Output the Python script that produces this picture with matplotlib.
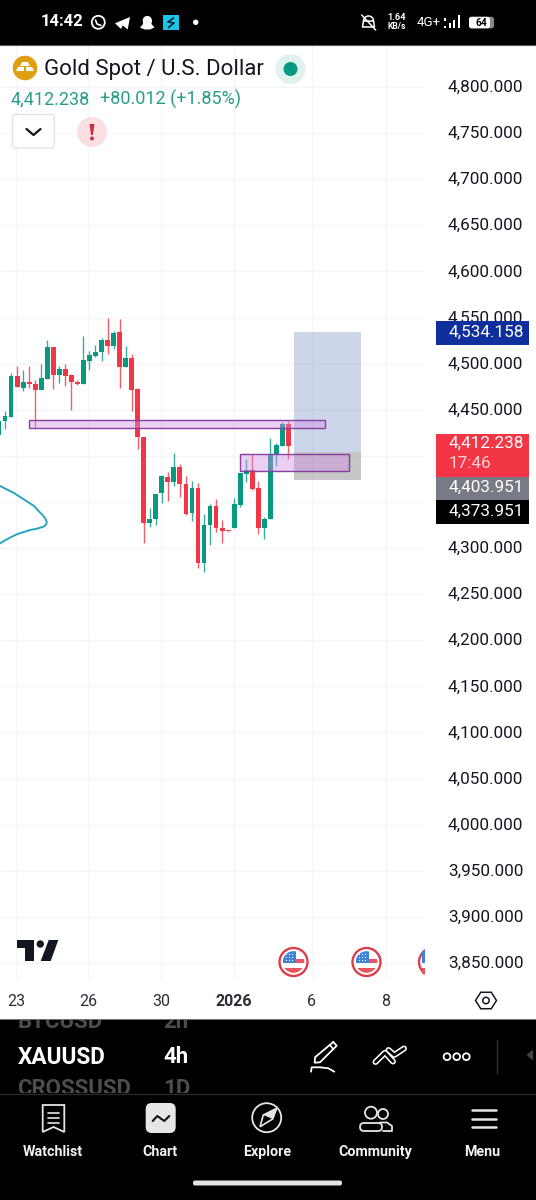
import matplotlib
matplotlib.use("Agg")
import matplotlib.pyplot as plt
import matplotlib.transforms as mtrans
import numpy as np
from matplotlib.patches import Circle, Rectangle, FancyBboxPatch, Polygon, Wedge

plt.rcParams['font.family'] = ['Roboto', 'DejaVu Sans']

# candles, 4h
opens = [4423, 4438.1, 4442.5, 4486.6, 4473.9, 4480.1, 4478.3, 4471.8, 4483.7, 4518,
         4487.7, 4493.8, 4487.3, 4480.1, 4478.3, 4503.2, 4508.6, 4512.2, 4525.3, 4518.8,
         4533.9, 4496.7, 4505.7, 4472.1, 4420.4, 4327.5, 4331.5, 4359.3, 4377, 4371.6,
         4388.2, 4369.4, 4337.6, 4365.5, 4284.1, 4325.3, 4345.9, 4321.7, 4318.8, 4321.4,
         4347, 4380.3, 4384.6, 4364.7, 4322.1, 4331.1, 4401.6, 4411, 4434.1]
highs = [4438, 4448.6, 4489.5, 4497.4, 4493.1, 4497.4, 4482.2, 4499.6, 4525.6, 4518,
         4497.8, 4499.6, 4488.7, 4482.2, 4530, 4514, 4519.8, 4527.4, 4549.5, 4535.7,
         4548.8, 4519.1, 4510.1, 4473.2, 4420.4, 4343.4, 4359, 4379.2, 4382.1, 4403.4,
         4390.8, 4378.1, 4372.7, 4370.2, 4336.5, 4347.8, 4352.8, 4330.4, 4319, 4354.6,
         4381, 4396.9, 4401.6, 4372.3, 4334, 4419, 4413.9, 4437, 4437.8]
lows = [4415, 4428.7, 4442.5, 4474.3, 4470.3, 4473.2, 4430.9, 4471.8, 4483.7, 4472.5,
        4478.6, 4475.7, 4449.3, 4477.2, 4478.3, 4492.7, 4506.8, 4502.8, 4510.4, 4515.5,
        4473.2, 4496.7, 4448.3, 4407.1, 4305.1, 4323.2, 4324.6, 4349.2, 4351, 4367.6,
        4355.7, 4336.2, 4329.3, 4278.3, 4274.4, 4302.9, 4317.4, 4305.1, 4317.9, 4321.4,
        4344.9, 4372, 4362.9, 4314.9, 4309.8, 4331.1, 4389, 4411, 4396.6]
closes = [4438, 4443.2, 4486.6, 4475, 4480.1, 4478.3, 4471.8, 4484, 4518, 4487.7,
          4493.8, 4486.9, 4479.7, 4477.9, 4503.6, 4509, 4512.2, 4525.6, 4518.8, 4533.6,
          4496.7, 4505.7, 4471.8, 4420.4, 4327.5, 4331.5, 4359, 4377.8, 4371.6, 4388.2,
          4369.1, 4337.3, 4365.5, 4284.1, 4325, 4345.6, 4321.4, 4318.1, 4318.1, 4347.8,
          4381, 4384.6, 4364, 4322.1, 4331.8, 4401.6, 4411.7, 4434.1, 4411]

price_ticks = [4800, 4750, 4700, 4650, 4600, 4550, 4500, 4450, 4400, 4350, 4300, 4250,
               4200, 4150, 4100, 4050, 4000, 3950, 3900, 3850]
hidden_ticks = [4400, 4350]  # these two sit under the price tags
date_ticks = [2.89, 14.76, 26.87, 38.97, 51.9, 64.2]
date_labels = ['23', '26', '30', '2026', '6', '8']

# long position tool
entry_price = 4403.951
target_price = 4534.158
stop_price = 4373.951
position_x = [48.9, 60.0]

# zones
zone_x = [[4.9, 54.06], [39.97, 58.05]]
zone_y = [[4430.2, 4438.9], [4383.9, 4401.7]]

# cyan drawing at the left edge
curve_x = [-1.5, 0.17, 2.39, 4.61, 5.8, 6.56, 7.2, 7.67, 7.94, 7.75, 7.39, 6.3, 5.17, 2.94, 1.28, 0.17, -1.5]
curve_y = [4374, 4367.3, 4360, 4350.7, 4345.6, 4340.2, 4336, 4332.2, 4327.9, 4325, 4323.2, 4321, 4319.6, 4314.9, 4309.4, 4305.1, 4298]

fig = plt.figure(figsize=(5.36, 12), dpi=100, facecolor='white')
W, H = 536.0, 1200.0

# chart pane, 0-425 px wide, 45-980 px high
ax = fig.add_axes([0, 1 - 980 / H, 425 / W, 935 / H])
ax.set_xlim(0.166, 70.65)
ax.set_ylim(3831.6, 4845.5)
for s in ax.spines.values():
    s.set_visible(False)

ax.set_yticks(price_ticks)
ax.set_yticklabels(['' if p in hidden_ticks else f'{p:,.3f}' for p in price_ticks], fontsize=12.3, color='#131722')
ax.yaxis.tick_right()
ax.tick_params(axis='y', length=0, pad=16.4)
nudge = mtrans.ScaledTranslation(0, 1 / 100, fig.dpi_scale_trans)
for lab in ax.get_yticklabels():
    lab.set_transform(lab.get_transform() + nudge)
ax.set_xticks(date_ticks)
ax.set_xticklabels(date_labels, fontsize=11.5, color='#2a2e39')
ax.tick_params(axis='x', length=0, pad=10)
ax.get_xticklabels()[3].set_fontweight('bold')
ax.grid(color='#f4f5f7', lw=0.9)
ax.set_axisbelow(True)

# position boxes
ax.add_patch(Rectangle((position_x[0], entry_price), position_x[1] - position_x[0], target_price - entry_price,
                       fc='#3f5fae', alpha=0.26, lw=0, zorder=1.5))
ax.add_patch(Rectangle((position_x[0], stop_price), position_x[1] - position_x[0], entry_price - stop_price,
                       fc='#787878', alpha=0.42, lw=0, zorder=1.5))

up = '#089981'
down = '#f23645'
idx = np.arange(len(opens))
o = np.array(opens)
c = np.array(closes)
colors = [up if b >= a else down for a, b in zip(opens, closes)]
ax.vlines(idx, lows, highs, colors=colors, lw=1.0, alpha=0.8, zorder=2)
ax.bar(idx, np.maximum(np.abs(c - o), 1.2), bottom=np.minimum(o, c), width=0.8, color=colors, lw=0, zorder=3)

for xs, ys in zip(zone_x, zone_y):
    ax.add_patch(Rectangle((xs[0], ys[0]), xs[1] - xs[0], ys[1] - ys[0], fc='#d08fe6', alpha=0.42, lw=0, zorder=4))
    ax.add_patch(Rectangle((xs[0], ys[0]), xs[1] - xs[0], ys[1] - ys[0], fc='none', ec='#86409e', lw=1.0, zorder=4))

ax.plot(curve_x, curve_y, color='#26a6bd', lw=1.4, zorder=4, solid_joinstyle='round')

# everything around the chart sits on a pixel axes
ui = fig.add_axes([0, 0, 1, 1], zorder=5)
ui.set_xlim(0, W)
ui.set_ylim(H, 0)
ui.axis('off')
ui.patch.set_alpha(0)


def txt(x, y, s, size, color='white', weight='normal', ha='left', **kw):
    return ui.text(x, y, s, fontsize=size, color=color, fontweight=weight, ha=ha, va='center', **kw)


def stroke(xs, ys, color='white', lw=1.3):
    ui.plot(xs, ys, color=color, lw=lw, solid_capstyle='round', solid_joinstyle='round')


# status bar
ui.add_patch(Rectangle((0, 0), W, 44.5, fc='black', lw=0))
ui.plot([0, W], [44.8, 44.8], color='#555555', lw=0.8)
txt(40.5, 22, '14:42', 12, weight='bold')
ui.add_patch(Circle((98.3, 22.3), 6.5, fc='none', ec='white', lw=1.3))
stroke([95.5, 97, 101], [20, 24, 25.5], lw=1.2)
ui.add_patch(Polygon([[115, 23.3], [130, 17], [127.7, 29.5], [122.7, 25.5], [121, 29]], fc='white', lw=0))
ui.add_patch(Circle((147.3, 20.5), 4.6, fc='white', lw=0))
ui.add_patch(Polygon([[140, 27.5], [143, 24], [143, 20], [151.5, 20], [151.5, 24], [154.5, 27.5], [150, 29.5], [144.5, 29.5]], fc='white', lw=0))
ui.add_patch(Rectangle((163.3, 14.8), 15.8, 15.5, fc='#19c6e8', lw=0))
stroke([173.5, 168, 174, 168.5], [18, 22, 23, 27.5], color='#10202a', lw=1.2)
ui.add_patch(Circle((195.7, 22.3), 2.7, fc='white', lw=0))
ui.add_patch(Wedge((368.5, 21), 5, 180, 360, fc='none', ec='white', lw=1.1))
stroke([363.5, 362.5, 374.5, 373.5], [21, 27, 27, 21], lw=1.1)
stroke([361.7, 375.7], [15, 30], lw=1.1)
txt(397, 17.3, '1.64', 6.6, weight='bold', ha='center')
txt(397, 26.7, 'KB/s', 6.2, weight='bold', ha='center')
txt(416.5, 22.3, '4G+', 9.6)
ui.add_patch(Rectangle((444.2, 18.3), 1.8, 2.5, fc='white', lw=0))
ui.add_patch(Rectangle((444.2, 25.8), 1.8, 2.5, fc='white', lw=0))
for bx, top in zip([449.7, 454.3, 458.7], [23.3, 20, 15]):
    ui.add_patch(Rectangle((bx - 1, top), 2.0, 28.3 - top, fc='white', lw=0))
ui.add_patch(FancyBboxPatch((469, 16.8), 25, 11.5, boxstyle='round,pad=0,rounding_size=2.5', fc='#8a8a8a', lw=0))
ui.add_patch(FancyBboxPatch((469, 16.8), 21, 11.5, boxstyle='round,pad=0,rounding_size=2.5', fc='white', lw=0))
txt(481.5, 22.7, '64', 7.4, color='black', weight='bold', ha='center')

# symbol header
ui.add_patch(Circle((25, 68), 12.3, fc='#de9f13', lw=0))
ui.add_patch(Polygon([[22, 62], [28, 62], [30, 66], [20, 66]], fc='white', lw=0))
ui.add_patch(Polygon([[16, 71], [18, 67], [24, 67], [24, 71]], fc='white', lw=0))
ui.add_patch(Polygon([[26, 71], [26, 67], [32, 67], [34, 71]], fc='white', lw=0))
txt(43.5, 69, 'Gold Spot / U.S. Dollar', 16, color='#131722')
ui.add_patch(Circle((290.5, 69), 15, fc='#dff2ee', lw=0))
ui.add_patch(Circle((290.5, 69), 7, fc='#089981', lw=0))
txt(11, 99.5, '4,412.238', 13, color='#2a9d88')
txt(99.5, 99.5, '+80.012 (+1.85%)', 13, color='#2a9d88')
ui.add_patch(FancyBboxPatch((12.3, 114.5), 42, 33.5, boxstyle='round,pad=0,rounding_size=3', fc='white', ec='#e0e3eb', lw=1))
stroke([26.5, 33.5, 40.5], [129, 135, 129], color='#131722', lw=1.6)
ui.add_patch(Circle((92, 132), 15, fc='#fbdfe3', lw=0))
ui.add_patch(Polygon([[89.5, 124], [94.5, 124], [93, 135], [91, 135]], fc='#cc2f45', lw=0))
ui.add_patch(Circle((92, 138.5), 2, fc='#cc2f45', lw=0))

# price tags on the scale
tags = [(321, 345, '#0f2f9c'), (433.5, 477, '#f23645'), (477, 500, '#787b86'), (500, 524, '#000000')]
for y0, y1, col in tags:
    ui.add_patch(Rectangle((436, y0), 92.5, y1 - y0, fc=col, lw=0))
txt(449, 332.5, f'{target_price:,.3f}', 12.3)
txt(449, 443.5, '4,412.238', 12.3)
txt(449, 463, '17:46', 12.3, color='#fbd0d4')
txt(449, 487.5, f'{entry_price:,.3f}', 12.3)
txt(449, 511.5, f'{stop_price:,.3f}', 12.3)

# TV logo
ui.add_patch(Polygon([[16.7, 940], [34.3, 940], [34.3, 961], [25, 961], [25, 948.3], [16.7, 948.3]], fc='#131722', lw=0))
ui.add_patch(Circle((40.3, 944), 3.7, fc='#131722', lw=0))
ui.add_patch(Polygon([[48.7, 940], [58.3, 940], [50.7, 961], [40.7, 961]], fc='#131722', lw=0))

# event flags
pane = Rectangle((0, 900), 425, 100, transform=ui.transData)
for fx in [293.5, 366.5, 433]:
    ring = Circle((fx, 962), 14, fc='white', ec='#d9404c', lw=1.7)
    ui.add_patch(ring)
    ring.set_clip_path(pane)
    disc = Circle((fx, 962), 10.8, transform=ui.transData)
    parts = [Rectangle((fx - 11, 967.5), 22, 6, fc='#e8555f', lw=0),
             Rectangle((fx, 959), 11, 4, fc='#e8555f', lw=0),
             Rectangle((fx - 11, 951), 13, 12, fc='#3f83d8', lw=0)]
    for p in parts:
        ui.add_patch(p)
        if fx + 11 > 425:
            p.set_clip_path(Rectangle((fx - 11, 950), 425 - fx + 11, 25, transform=ui.transData))
        else:
            p.set_clip_path(disc)
    if fx + 11 <= 425:
        for dx in [-7, -4, -1]:
            for dy in [-7.5, -4.5, -1.5]:
                ui.add_patch(Circle((fx + dx, 962 + dy), 0.6, fc='white', lw=0))

# settings hexagon
a = np.radians(np.arange(0, 360, 60))
ui.add_patch(Polygon(np.c_[486 + 10.5 * np.cos(a), 1000.5 + 9.5 * np.sin(a)], fc='none', ec='#131722', lw=1.1))
ui.add_patch(Circle((486, 1000.5), 3.2, fc='none', ec='#131722', lw=1.1))

# bottom panel
ui.add_patch(Rectangle((0, 1019), W, 181, fc='black', lw=0))
ui.plot([0, W], [1019, 1019], color='#777777', lw=0.7)
ui.plot([0, W], [1094, 1094], color='#2b2b2b', lw=0.9)
strip = Rectangle((0, 1020), W, 73, transform=ui.transData)
for y, name, tf in [(1022, 'BTCUSD', '2h'), (1088.6, 'CROSSUSD', '1D')]:
    for tx, s in [(17.5, name), (163, tf)]:
        t = txt(tx, y, s, 16, color='#4d4d4d', weight='bold')
        t.set_clip_on(True)
        t.set_clip_path(strip)
txt(17.5, 1057, 'XAUUSD', 16.3, weight='bold')
txt(163, 1057, '4h', 16, weight='bold')

# drawing tool icons
stroke([333.3, 336.7, 320, 314.7, 315, 333.3], [1042, 1045.7, 1062.3, 1062.7, 1057.3, 1042], lw=1.3)
stroke([330, 333.3], [1045, 1049.3], lw=1.2)
stroke([311, 311.7, 320, 328.3, 334.3], [1071.7, 1067.3, 1067.3, 1068.3, 1071.7], lw=1.3)
for col, lw in [('white', 4.3), ('black', 2.0)]:
    stroke([375.5, 385, 393], [1062, 1052.7, 1061.5], color=col, lw=lw)
    stroke([388.5, 394.3, 404], [1050, 1055, 1048.5], color=col, lw=lw)
for cx in [447, 456.7, 466.3]:
    ui.add_patch(Circle((cx, 1056.7), 3.4, fc='none', ec='white', lw=1.3))
ui.plot([496.7, 496.7], [1040, 1073], color='#333333', lw=0.9)
ui.add_patch(Polygon([[526.5, 1055], [533, 1049.5], [533, 1060.5]], fc='#444444', lw=0))

# nav bar
nav_labels = ['Watchlist', 'Chart', 'Explore', 'Community', 'Menu']
nav_x = [53, 160, 267.5, 375, 482]
for nx, s in zip(nav_x, nav_labels):
    txt(nx, 1152, s, 10.3, weight='bold', ha='center', color='#f2f2f2')
ui.add_patch(Polygon([[42.7, 1105], [64.3, 1105], [64.3, 1132], [53.5, 1127], [42.7, 1132]], fc='none', ec='#e6e6e6', lw=1.3))
for ly in [1113, 1118, 1123]:
    stroke([47.7, 59.3], [ly, ly], color='#e6e6e6', lw=1.2)
ui.add_patch(FancyBboxPatch((145.7, 1103), 30, 30, boxstyle='round,pad=0,rounding_size=6', fc='#e6e6e6', lw=0))
stroke([152.7, 157.3, 164.3, 169.3], [1121, 1116, 1121, 1116], color='#111111', lw=1.5)
ui.add_patch(Circle((266.7, 1117.7), 14.5, fc='none', ec='#e6e6e6', lw=1.3))
ui.add_patch(Polygon([[276.7, 1108.3], [272.7, 1119], [260, 1126.7], [263.3, 1115]], fc='none', ec='#e6e6e6', lw=1.2))
ui.add_patch(Polygon([[276.7, 1108.3], [272.7, 1119], [263.3, 1115]], fc='#e6e6e6', lw=0))
ui.add_patch(Circle((371, 1112.7), 6, fc='none', ec='#e6e6e6', lw=1.3))
ui.add_patch(Circle((383, 1114), 5, fc='none', ec='#e6e6e6', lw=1.3))
ui.add_patch(FancyBboxPatch((360, 1123), 22, 8, boxstyle='round,pad=0,rounding_size=4', fc='none', ec='#e6e6e6', lw=1.3))
stroke([380, 387, 392, 392, 383], [1122.5, 1122.5, 1126, 1131, 1131], color='#e6e6e6')
for ly in [1110, 1118.5, 1127]:
    stroke([471.5, 495.5], [ly, ly], color='#e6e6e6', lw=1.8)
ui.add_patch(FancyBboxPatch((193, 1180.5), 149, 5, boxstyle='round,pad=0,rounding_size=2', fc='#e4e4e4', lw=0))

fig.savefig('out.png', dpi=100, facecolor='white')
